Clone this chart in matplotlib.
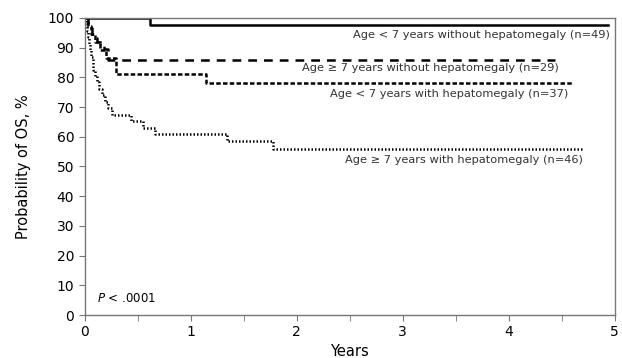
import matplotlib.pyplot as plt

# Kaplan-Meier step curves (years, % surviving)
t_lt7_no = [0, 0.62, 4.94]
s_lt7_no = [100, 97.6, 97.6]

t_ge7_no = [0, 0.03, 0.07, 0.12, 0.18, 0.22, 4.44]
s_ge7_no = [100, 96.5, 93.1, 92.0, 89.7, 85.9, 85.9]

t_lt7_hep = [0, 0.03, 0.06, 0.10, 0.15, 0.20, 0.30, 1.15, 4.61]
s_lt7_hep = [100, 97.3, 94.6, 91.9, 89.2, 86.5, 81.0, 78.2, 78.2]

t_ge7_hep = [0, 0.01, 0.02, 0.03, 0.04, 0.05, 0.06, 0.08, 0.10, 0.12, 0.14,
             0.16, 0.19, 0.22, 0.26, 0.30, 0.44, 0.50, 0.55, 0.66, 1.34, 1.78, 4.69]
s_ge7_hep = [100, 97.8, 95.7, 93.5, 91.3, 89.1, 87.0, 82.6, 80.4, 78.3, 76.1,
             73.9, 71.7, 69.6, 67.4, 67.4, 65.2, 65.2, 63.0, 60.9, 58.5, 55.9, 55.9]

labels = ["Age < 7 years without hepatomegaly (n=49)",
          "Age \u2265 7 years without hepatomegaly (n=29)",
          "Age < 7 years with hepatomegaly (n=37)",
          "Age \u2265 7 years with hepatomegaly (n=46)"]
label_x = [4.96, 4.47, 4.56, 4.70]
label_y = [94.3, 83.2, 74.4, 52.2]

fig = plt.figure(figsize=(6.22, 3.58), dpi=100)
ax = fig.add_axes([0.136, 0.12, 0.852, 0.83])

ax.step(t_lt7_no, s_lt7_no, where='post', color='black', lw=1.8)
ax.step(t_ge7_no, s_ge7_no, where='post', color='black', lw=1.8,
        linestyle=(0, (3.5, 2.8)))
ax.step(t_lt7_hep, s_lt7_hep, where='post', color='black', lw=1.8,
        linestyle=(0, (1.8, 0.9)))
ax.step(t_ge7_hep, s_ge7_hep, where='post', color='black', lw=1.8,
        linestyle=(0, (0.6, 0.8)))

for lab, x, y in zip(labels, label_x, label_y):
    ax.text(x, y, lab, ha='right', va='center', fontsize=8.2, color='#333333')

ax.text(0.12, 5.7, "$P$ < .0001", fontsize=8.5, va='center')

ax.set_xlim(0, 5)
ax.set_ylim(0, 100)
ax.set_xticks([0, 1, 2, 3, 4, 5])
ax.set_xticks([0.5, 1.5, 2.5, 3.5, 4.5], minor=True)
ax.set_yticks(range(0, 101, 10))
ax.tick_params(axis='both', labelsize=10, color='#777777', direction='out', length=4)
ax.tick_params(axis='x', which='minor', length=4, color='#777777')
for sp in ax.spines.values():
    sp.set_color('#777777')
    sp.set_linewidth(1.0)

ax.set_xlabel("Years", fontsize=10.5, labelpad=3)
ax.set_ylabel("Probability of OS, %", fontsize=10.5, labelpad=12)

fig.savefig("out.png", dpi=100)
